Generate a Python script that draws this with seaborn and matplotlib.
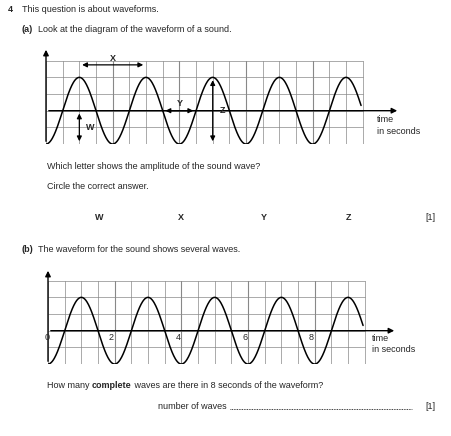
import numpy as np
import pandas as pd
import matplotlib
matplotlib.use("Agg")
import matplotlib.pyplot as plt
import seaborn as sns

# wave: one cell = 0.5 s, period 4 cells, amplitude 2 cells
period_cells = 4
amplitude_cells = 2
wave_end_cells = 18.9
grid_cols = 19
grid_rows = [-2, -1, 0, 1, 2, 3]
tick_seconds = [0, 2, 4, 6, 8]
answer_letters = ["W", "X", "Y", "Z"]
answer_x_px = [99, 181, 264, 349]

W, H = 451, 436
sns.set_theme(style="white")
plt.rcParams["font.family"] = ["Liberation Sans", "DejaVu Sans"]
FS = 6.5

fig = plt.figure(figsize=(W / 100, H / 100), dpi=100)


def T(x, y, s, **kw):
    kw.setdefault("fontsize", FS)
    kw.setdefault("va", "center")
    return fig.text(x / W, 1 - y / H, s, **kw)


def wave_frame():
    t = np.linspace(0, wave_end_cells, 600)
    y = -amplitude_cells * np.cos(2 * np.pi * t / period_cells)
    return pd.DataFrame({"t": t, "y": y})


def draw_wave_axes(left_px, axis_px, bottom_px, top_px, right_px):
    cell = 16.67
    x1 = (right_px - left_px) / cell
    y0 = -(bottom_px - axis_px) / cell
    y1 = (axis_px - top_px) / cell
    ax = fig.add_axes([left_px / W, 1 - bottom_px / H,
                       (right_px - left_px) / W, (bottom_px - top_px) / H])
    ax.set_xlim(0, x1)
    ax.set_ylim(y0, y1)
    ax.axis("off")
    ax.patch.set_alpha(0)
    for c in range(grid_cols + 1):
        lw = 0.8 if c % 4 == 0 and c > 0 else 0.5
        ax.plot([c, c], [grid_rows[0], grid_rows[-1]], color="#888888", lw=lw, zorder=1)
    for r in grid_rows:
        ax.plot([0, grid_cols], [r, r], color="#888888", lw=0.5, zorder=1)
    # axes with arrows
    ax.annotate("", xy=(x1, 0), xytext=(0, 0),
                arrowprops=dict(arrowstyle="-|>", color="black", lw=1.0, mutation_scale=8))
    ax.annotate("", xy=(0, y1), xytext=(0, grid_rows[0]),
                arrowprops=dict(arrowstyle="-|>", color="black", lw=1.0, mutation_scale=8))
    sns.lineplot(data=wave_frame(), x="t", y="y", ax=ax, color="black", lw=1.1, zorder=3)
    ax.set_xlim(0, x1)
    ax.set_ylim(y0, y1)
    return ax


def darrow(ax, a, b):
    ax.annotate("", xy=b, xytext=a,
                arrowprops=dict(arrowstyle="<|-|>", color="black", lw=0.9, mutation_scale=7))


# header
T(8, 9, "4", fontweight="bold")
T(22, 9, "This question is about waveforms.")
T(22, 30, "(a)", fontweight="bold")
T(38, 30, "Look at the diagram of the waveform of a sound.")

# chart (a)
ax1 = draw_wave_axes(46, 110.7, 144, 47, 400)
darrow(ax1, (2, 2.75), (6, 2.75))
ax1.text(4, 3.15, "X", fontsize=FS, fontweight="bold", ha="center", va="center")
darrow(ax1, (7, 0), (9, 0))
ax1.text(8, 0.45, "Y", fontsize=FS, fontweight="bold", ha="center", va="center")
darrow(ax1, (10, 2), (10, -2))
ax1.text(10.4, 0, "Z", fontsize=FS, fontweight="bold", ha="left", va="center")
darrow(ax1, (2, 0), (2, -2))
ax1.text(2.4, -1, "W", fontsize=FS, fontweight="bold", ha="left", va="center")
T(377, 119, "time")
T(377, 131, "in seconds")

T(47, 166, "Which letter shows the amplitude of the sound wave?")
T(47, 186, "Circle the correct answer.")
for lx, letter in zip(answer_x_px, answer_letters):
    T(lx, 217, letter, fontweight="bold", ha="center")
T(425, 217, "[1]")

# chart (b)
T(22, 249, "(b)", fontweight="bold")
T(38, 249, "The waveform for the sound shows several waves.")
ax2 = draw_wave_axes(48, 330.7, 364, 268, 397)
for s in tick_seconds:
    ax2.text(s * 2 - 0.05, -0.15, str(s), fontsize=FS, ha="right" if s else "center", va="top")
T(372, 338, "time")
T(372, 350, "in seconds")

t1 = T(47, 385, "How many ")
a = fig.add_artist(matplotlib.text.Annotation("complete", xy=(1, 0), xycoords=t1,
                                              fontsize=FS, fontweight="bold", va="bottom"))
fig.add_artist(matplotlib.text.Annotation(" waves are there in 8 seconds of the waveform?",
                                          xy=(1, 0), xycoords=a, fontsize=FS, va="bottom"))
T(158, 406, "number of waves")
fig.add_artist(plt.Line2D([230 / W, 412 / W], [1 - 409 / H, 1 - 409 / H],
                          color="black", lw=0.6, ls=(0, (1, 1))))
T(425, 406, "[1]")

fig.savefig("out.png", dpi=100, facecolor="white")
